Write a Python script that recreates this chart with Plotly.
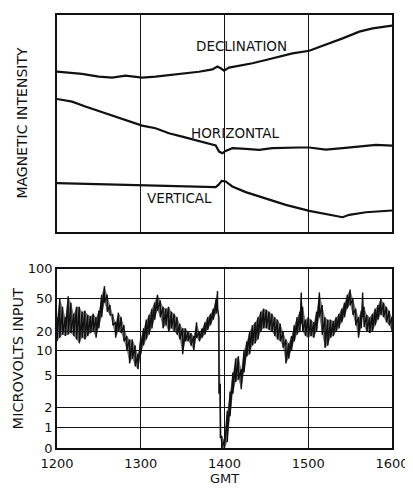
import numpy as np
import plotly.graph_objects as go

# ---------------- data ----------------
# Top panel: magnetograms (arbitrary magnetic-intensity units, 0-100), time in minutes after 1200 GMT
decl_t = [0, 17.9, 29.9, 39.5, 49.1, 61.0, 70.6, 82.6, 92.1, 101.7, 111.3, 114.9, 117.3, 119.7,
          123.2, 130.4, 140, 149.6, 159.1, 168.7, 180.7, 192.6, 204.6, 216.6, 226.1, 240]
decl_v = [73.8, 72.8, 71.5, 71.1, 72.0, 71.1, 71.5, 72.3, 73.1, 73.8, 74.9, 76.2, 75.4, 74.3,
          75.7, 76.5, 77.7, 79.2, 80.8, 82.3, 83.5, 86.2, 89.2, 92.3, 93.8, 95.1]

horiz_t = [0, 10.8, 20.3, 29.9, 39.5, 49.1, 61.0, 70.6, 80.2, 89.7, 101.7, 111.3, 113.7, 116.1,
           118.5, 120.8, 125.6, 135.2, 144.8, 154.3, 163.9, 173.5, 180.7, 192.6, 204.6, 216.6, 228.5, 240]
horiz_v = [61.2, 60.0, 57.7, 55.7, 53.5, 51.5, 48.9, 47.7, 45.4, 43.8, 41.8, 40.3, 39.7, 36.9,
           36.2, 37.2, 38.5, 38.2, 37.7, 38.5, 38.8, 38.8, 38.8, 37.8, 38.5, 39.2, 40.0, 39.7]

vert_t = [0, 17.9, 37.1, 61.0, 77.8, 92.1, 106.5, 113.7, 115.6, 118.0, 120.8, 125.6, 135.2,
          149.6, 163.9, 180.7, 192.6, 204.6, 209.4, 221.3, 240]
vert_v = [22.3, 22.0, 21.5, 21.2, 20.8, 20.6, 20.3, 20.5, 21.5, 23.4, 23.1, 20.8, 18.2,
          15.1, 12.3, 9.5, 8.0, 6.6, 7.7, 8.9, 9.7]

# Bottom panel: received signal (microvolts), upper and lower extent of the trace at each time
sig_t = [0, 2, 4, 6, 8, 10, 12, 14, 16, 18, 20, 22, 24, 26, 28, 30, 32, 34, 36, 38, 40, 42, 44, 46, 48, 50,
         52, 54, 56, 58, 60,
         62, 64, 66, 68, 70, 72, 74, 76, 78, 80, 82, 84, 86, 88, 90, 92, 94, 96, 98, 100, 102, 104, 106,
         108, 110, 112, 114, 115, 116, 117, 118,
         120, 122, 124, 126, 128, 130, 132, 134, 136, 138, 140, 142, 144, 146, 148, 150, 152, 154, 156,
         158, 160, 162, 164, 166, 168, 170, 172, 174, 175, 176, 178,
         180, 182, 184, 186, 188, 190, 192, 194, 196, 198, 200, 202, 204, 206, 208, 210, 212, 214, 216,
         218, 219, 220, 222, 224, 226, 228, 230, 232, 234, 236, 238, 240]
sig_hi = [30, 50, 40, 30, 53, 45, 33, 40, 40, 35, 36, 32, 31, 33, 30, 36, 55, 67, 55, 42, 32, 26, 34, 30, 24, 17,
          15, 15, 12, 9, 16,
          22, 28, 32, 38, 45, 55, 48, 40, 38, 40, 35, 33, 30, 25, 22, 22, 20, 19, 17, 26, 20, 22, 26,
          30, 33, 38, 50, 60, 30, 4, 0.6,
          0.4, 1.8, 3.2, 5.5, 8, 8.5, 6, 10, 14, 20, 24, 26, 30, 35, 38, 37, 35, 33, 30,
          28, 25, 20, 15, 13, 17, 24, 30, 35, 58, 40, 28,
          30, 28, 26, 35, 58, 42, 30, 28, 28, 27, 30, 33, 38, 45, 55, 62, 50, 38, 30,
          36, 58, 40, 32, 30, 33, 38, 42, 50, 45, 40, 36, 30]
sig_lo = [14, 16, 18, 17, 18, 19, 17, 15, 13, 16, 15, 17, 19, 20, 16, 22, 30, 45, 35, 32, 24, 16, 20, 19, 14, 10,
          7, 8, 6.5, 6, 9,
          12, 15, 18, 22, 28, 36, 30, 22, 24, 20, 22, 20, 18, 15, 9, 14, 14, 12, 10, 16, 14, 16, 18,
          21, 24, 28, 33, 38, 3, 0.5, 0,
          0, 0.3, 1.5, 3, 4.2, 4.5, 3.4, 5.5, 8.5, 9, 12, 13, 15, 20, 22, 22, 21, 20, 17,
          15, 14, 11, 7, 8, 10, 14, 18, 20, 25, 20, 17,
          16, 17, 16, 20, 30, 18, 11, 12, 16, 17, 20, 22, 26, 30, 38, 42, 32, 24, 16,
          22, 30, 23, 20, 19, 20, 24, 28, 32, 30, 26, 24, 20]

# hand-ruled microvolt scale of the original chart: tick values and where they sit on the axis
mv_ticks = [0, 1, 2, 5, 10, 20, 50, 100]
mv_tick_pos = [0, 20.5, 41, 73.5, 99.5, 118.5, 152, 182.7]

time_ticks = [0, 60, 120, 180, 240]
time_labels = ["1200", "1300", "1400", "1500", "1600"]


def mv_scale(v):
    v = np.asarray(v, dtype=float)
    lt = np.log10(np.array(mv_ticks[1:], dtype=float))
    lp = np.array(mv_tick_pos[1:], dtype=float)
    out = np.where(v >= 1, np.interp(np.log10(np.maximum(v, 1e-9)), lt, lp), v * mv_tick_pos[1])
    return out


# zig-zag trace between upper and lower extent, plus the inked band between them
zx, zy = [], []
for t, h, l in zip(sig_t, sig_hi, sig_lo):
    zx += [t, t]
    zy += [h, l]
band_x = list(sig_t) + list(sig_t)[::-1]
band_y = list(sig_hi) + list(sig_lo)[::-1]

INK = "#111111"
FONT = "DejaVu Sans"

fig = go.Figure()
for t, v in [(decl_t, decl_v), (horiz_t, horiz_v), (vert_t, vert_v)]:
    fig.add_trace(go.Scatter(x=t, y=v, mode="lines", line=dict(color=INK, width=2.2),
                             xaxis="x", yaxis="y", showlegend=False, hoverinfo="skip"))

fig.add_trace(go.Scatter(x=band_x, y=mv_scale(band_y), mode="lines", fill="toself",
                         fillcolor="rgba(17,17,17,0.55)", line=dict(width=0),
                         xaxis="x2", yaxis="y2", showlegend=False, hoverinfo="skip"))
fig.add_trace(go.Scatter(x=zx, y=mv_scale(zy), mode="lines", line=dict(color=INK, width=1.4),
                         xaxis="x2", yaxis="y2", showlegend=False, hoverinfo="skip"))

axis_common = dict(showline=True, linecolor=INK, linewidth=1.5, mirror=True, zeroline=False)

# page body adds an 8px offset, so the figure is 8px smaller and margins compensate
fig.update_layout(
    width=405, height=481,
    margin=dict(l=49, r=21, t=0, b=41),
    paper_bgcolor="white", plot_bgcolor="white",
    font=dict(family=FONT, color=INK, size=13),
    xaxis=dict(domain=[0, 1], range=[0, 240], anchor="y", tickvals=[60, 120, 180],
               showticklabels=False, ticks="", showgrid=True, gridcolor=INK, gridwidth=1,
               **axis_common),
    yaxis=dict(domain=[0.5, 1], range=[0, 100], anchor="x", showticklabels=False,
               ticks="", showgrid=False, **axis_common),
    xaxis2=dict(domain=[0, 1], range=[0, 240], anchor="y2", tickvals=time_ticks,
                ticktext=time_labels, ticks="", showgrid=True, gridcolor=INK, gridwidth=1,
                tickfont=dict(size=13), ticklabelstandoff=3,
                title=dict(text="GMT", font=dict(size=13), standoff=4), **axis_common),
    yaxis2=dict(domain=[0, 0.414], range=[0, mv_tick_pos[-1]], anchor="x2",
                tickvals=mv_tick_pos, ticktext=[str(v) for v in mv_ticks], ticks="",
                showgrid=True, gridcolor=INK, gridwidth=1.3, tickfont=dict(size=13),
                **axis_common),
)

ann_font = dict(family=FONT, size=13.5, color=INK)
fig.add_annotation(x=132.5, y=85.7, xref="x", yref="y", text="DECLINATION", showarrow=False, font=ann_font)
fig.add_annotation(x=128.2, y=45.5, xref="x", yref="y", text="HORIZONTAL", showarrow=False, font=ann_font)
fig.add_annotation(x=87.4, y=15.5, xref="x", yref="y", text="VERTICAL", showarrow=False, font=ann_font)

fig.add_annotation(x=-0.104, y=0.752, xref="paper", yref="paper", text="MAGNETIC INTENSITY",
                   textangle=-90, showarrow=False, xanchor="center", yanchor="middle",
                   font=dict(family=FONT, size=14, color=INK))
fig.add_annotation(x=-0.116, y=0.205, xref="paper", yref="paper", text="MICROVOLTS INPUT",
                   textangle=-90, showarrow=False, xanchor="center", yanchor="middle",
                   font=dict(family=FONT, size=14.5, color=INK))

fig.write_html("out.html")
